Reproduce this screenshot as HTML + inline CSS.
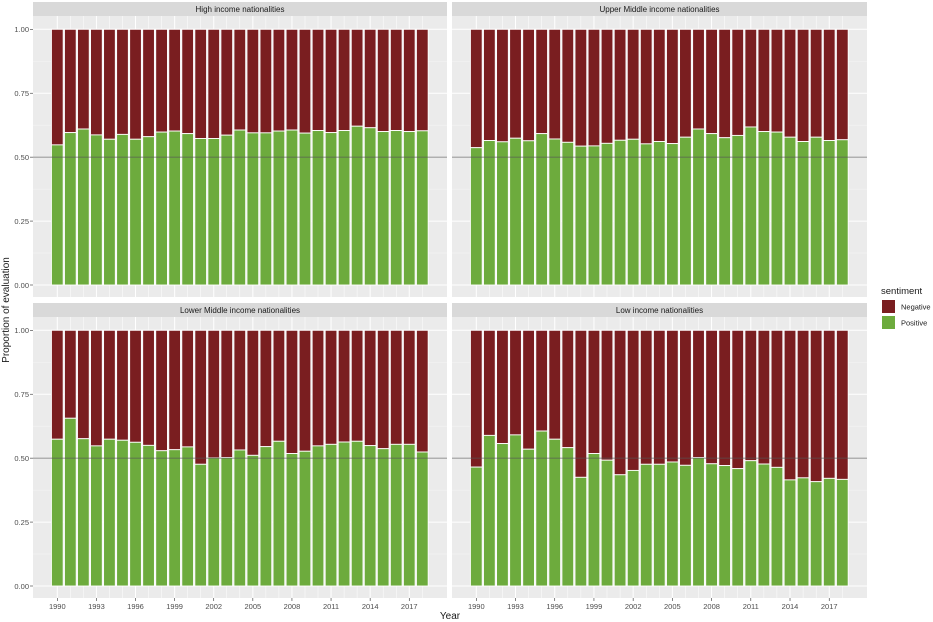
<!DOCTYPE html>
<html><head><meta charset="utf-8"><style>
body{margin:0;background:#fff;}
svg{display:block;font-family:"Liberation Sans",Arial,sans-serif;}
</style></head><body>
<svg id="chart" width="933" height="622"></svg>
<script>
const years = [];
for (let y = 1990; y <= 2018; y++) years.push(y);
const tickYears = [1990,1993,1996,1999,2002,2005,2008,2011,2014,2017];
const yTicks = [0,0.25,0.5,0.75,1];
const yTickLabels = ["0.00","0.25","0.50","0.75","1.00"];
const panelTitles = ["High income nationalities","Upper Middle income nationalities","Lower Middle income nationalities","Low income nationalities"];
const highPos = [0.548,0.596,0.610,0.587,0.570,0.589,0.570,0.580,0.598,0.602,0.592,0.573,0.573,0.586,0.606,0.595,0.595,0.602,0.606,0.594,0.604,0.596,0.604,0.621,0.615,0.600,0.604,0.600,0.603];
const upperPos = [0.537,0.565,0.560,0.574,0.564,0.592,0.571,0.558,0.543,0.544,0.554,0.566,0.570,0.552,0.561,0.553,0.578,0.610,0.592,0.576,0.585,0.618,0.600,0.598,0.578,0.561,0.578,0.565,0.568];
const lowerPos = [0.574,0.656,0.576,0.548,0.574,0.570,0.562,0.550,0.529,0.533,0.544,0.476,0.501,0.502,0.532,0.511,0.545,0.566,0.518,0.527,0.548,0.554,0.563,0.566,0.549,0.537,0.554,0.554,0.524];
const lowPos = [0.465,0.589,0.557,0.591,0.535,0.606,0.574,0.541,0.425,0.518,0.492,0.435,0.452,0.476,0.476,0.485,0.472,0.502,0.478,0.471,0.459,0.490,0.477,0.464,0.415,0.423,0.408,0.421,0.417];
const seriesList = [highPos, upperPos, lowerPos, lowPos];

const NS = "http://www.w3.org/2000/svg";
const svg = document.getElementById("chart");
function mk(tag, attrs, parent) {
  const e = document.createElementNS(NS, tag);
  for (const k in attrs) e.setAttribute(k, attrs[k]);
  (parent || svg).appendChild(e);
  return e;
}
const panels = [
  {x0:33, x1:447, sTop:2, sBot:16, pBot:297, y1:29.3, y0:285},
  {x0:452, x1:867, sTop:2, sBot:16, pBot:297, y1:29.3, y0:285},
  {x0:33, x1:447, sTop:303, sBot:317, pBot:598, y1:330.3, y0:586},
  {x0:452, x1:867, sTop:303, sBot:317, pBot:598, y1:330.3, y0:586}
];
const n = years.length;
panels.forEach((p, pi) => {
  const g = mk("g", {});
  
  
  const step = (p.x1 - p.x0 - 49) / (n - 1);
  const xS = i => p.x0 + 24.3 + i * step;
  const yS = v => p.y0 - v * (p.y0 - p.y1);
  const bw = step * 0.9;
  const strip = mk("rect", {x:p.x0, y:p.sTop, width:p.x1-p.x0, height:p.sBot-p.sTop, fill:"#d9d9d9"}, g);
  
  
  const st = mk("text", {x:(p.x0+p.x1)/2, y:p.sTop+10, "text-anchor":"middle", "font-size":"8", fill:"#1a1a1a"}, g);
  st.textContent = panelTitles[pi];
  
  
  const bg = mk("rect", {x:p.x0, y:p.sBot, width:p.x1-p.x0, height:p.pBot-p.sBot, fill:"#ebebeb"}, g);
  
  
  [0.125,0.375,0.625,0.875].forEach(v => mk("line",{x1:p.x0,x2:p.x1,y1:yS(v),y2:yS(v),stroke:"#f5f5f5","stroke-width":0.5},g));
  yTicks.forEach(v => mk("line",{x1:p.x0,x2:p.x1,y1:yS(v),y2:yS(v),stroke:"#fff","stroke-width":1},g));
  years.forEach((yr,i) => mk("line",{x1:xS(i),x2:xS(i),y1:p.sBot,y2:p.pBot,stroke:"#fff","stroke-width":tickYears.includes(yr)?1:0.5},g));
  seriesList[pi].forEach((v,i) => {
    const neg = mk("rect",{x:xS(i)-bw/2,y:yS(1),width:bw,height:yS(v)-yS(1),fill:"#7a1e20",stroke:"#ffffff","stroke-width":0.9},g);
    
    
    const pos = mk("rect",{x:xS(i)-bw/2,y:yS(v),width:bw,height:yS(0)-yS(v),fill:"#6dab3d",stroke:"#ffffff","stroke-width":0.9},g);
    
    
  });
  const hl = mk("line",{x1:p.x0,x2:p.x1,y1:yS(0.5),y2:yS(0.5),stroke:"#555","stroke-width":0.8,"stroke-opacity":0.85},g);
  
  
  if (pi % 2 === 0) {
    yTicks.forEach((v,k) => {
      mk("line",{x1:p.x0-3,x2:p.x0,y1:yS(v),y2:yS(v),stroke:"#333","stroke-width":0.6},g);
      const t = mk("text",{x:p.x0-4,y:yS(v)+2.8,"text-anchor":"end","font-size":"7.5",fill:"#4d4d4d"},g);
      t.textContent = yTickLabels[k];
      
      
    });
  }
  if (pi >= 2) {
    years.forEach((yr,i) => {
      if (!tickYears.includes(yr)) return;
      mk("line",{x1:xS(i),x2:xS(i),y1:p.pBot,y2:p.pBot+3,stroke:"#333","stroke-width":0.6},g);
      const t = mk("text",{x:xS(i),y:p.pBot+11,"text-anchor":"middle","font-size":"7.5",fill:"#4d4d4d"},g);
      t.textContent = yr;
      
      
    });
  }
});
const yt = mk("text",{x:0,y:0,transform:"translate(9,310) rotate(-90)","text-anchor":"middle","font-size":"10",fill:"#1a1a1a"});
yt.textContent = "Proportion of evaluation";


const xt = mk("text",{x:450,y:619,"text-anchor":"middle","font-size":"10",fill:"#1a1a1a"});
xt.textContent = "Year";


const lt = mk("text",{x:881,y:294,"font-size":"9.5",fill:"#1a1a1a"});
lt.textContent = "sentiment";


[["Negative","#7a1e20",300],["Positive","#6dab3d",316]].forEach(([lab,col,y]) => {
  const r = mk("rect",{x:882,y:y,width:13,height:13,fill:col});
  
  
  const t = mk("text",{x:901,y:y+9.5,"font-size":"7.5",fill:"#1a1a1a"});
  t.textContent = lab;
  
  
});
</script>
</body></html>
